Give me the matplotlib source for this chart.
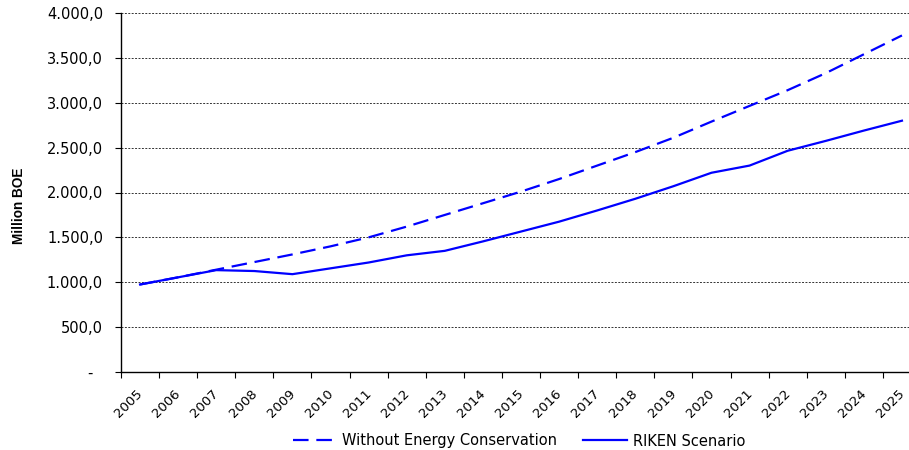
import matplotlib.pyplot as plt
import matplotlib.transforms as mtransforms
import numpy as np

plt.rcParams.update({'font.family': ['DejaVu Sans'], 'font.size': 10.5})

years = [str(y) for y in range(2005, 2026)]
without_conservation = [975, 1055, 1140, 1225, 1310, 1400, 1500, 1620, 1750, 1880,
                        2010, 2150, 2300, 2450, 2610, 2790, 2965, 3140, 3330, 3540, 3750]
riken = [975, 1055, 1135, 1125, 1090, 1155, 1220, 1300, 1350, 1455,
         1565, 1675, 1800, 1930, 2070, 2220, 2300, 2465, 2575, 2690, 2800]
y_ticks = [0, 500, 1000, 1500, 2000, 2500, 3000, 3500, 4000]


def fmt(v):
    if v == 0:
        return "-  "
    s = "{:,.1f}".format(v)
    return s.replace(",", "X").replace(".", ",").replace("X", ".")


fig = plt.figure(figsize=(9.09, 4.5), dpi=100)
ax = fig.add_axes([121 / 909, 1 - 372 / 450, 800 / 909, 359 / 450])

x = np.arange(len(years))
line1, = ax.plot(x, without_conservation, color='#0000ff', lw=1.6, dashes=(7, 3.5))
line2, = ax.plot(x, riken, color='#0000ff', lw=1.6)

ax.set_xlim(-0.5, len(years) - 0.5)
ax.set_ylim(0, 4000)
ax.set_yticks(y_ticks)
ax.set_yticklabels([fmt(v) for v in y_ticks])
ax.yaxis.grid(True, color='#333333', lw=0.7, linestyle=(0, (2, 1.5)))
ax.set_axisbelow(True)

ax.set_xticks(x)
ax.set_xticklabels(years, rotation=45, ha='right', va='top', rotation_mode='anchor',
                   fontsize=9.5)
ax.set_xticks(np.arange(-0.5, len(years)), minor=True)
ax.tick_params(axis='x', which='major', length=0, pad=11)
ax.tick_params(axis='x', which='minor', length=4, width=0.8, direction='out')
ax.tick_params(axis='y', length=4, width=0.8, direction='out', pad=9)

offset = mtransforms.ScaledTranslation(-4 / 100, 0, fig.dpi_scale_trans)
for lab in ax.get_xticklabels():
    lab.set_transform(lab.get_transform() + offset)

for s in ['top', 'right']:
    ax.spines[s].set_visible(False)
ax.spines['left'].set_linewidth(1)
ax.spines['bottom'].set_linewidth(1)

fig.text(19 / 909, 1 - 206 / 450, "Million BOE", rotation=90, fontweight='bold',
         ha='center', va='center', fontsize=9.8, family='Liberation Sans')

fig.legend([line1, line2], ["Without Energy Conservation", "RIKEN Scenario"],
           loc='center', bbox_to_anchor=(519 / 909, 1 - 441 / 450), ncol=2,
           frameon=False, handlelength=3.0, columnspacing=1.8, handletextpad=0.4)

fig.savefig("out.png", dpi=100)
